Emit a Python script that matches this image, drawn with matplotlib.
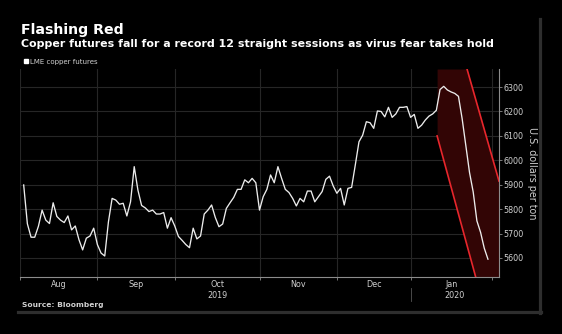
import matplotlib.pyplot as plt
import numpy as np
import pandas as pd
from matplotlib.lines import Line2D
from matplotlib.transforms import blended_transform_factory

# LME trading calendar (UK bank holidays removed)
holidays = ['2019-08-26', '2019-12-25', '2019-12-26', '2020-01-01']
trading_days = pd.bdate_range('2019-08-01', '2020-02-29', freq='C', holidays=holidays)
start_date = pd.Timestamp('2019-08-02')

# LME copper futures, US$ per ton, one value per session from Aug 2 2019
copper = [5899, 5740, 5685, 5685, 5730, 5796, 5755, 5741, 5826, 5770,
          5755, 5745, 5772, 5715, 5731, 5675, 5633, 5681, 5690, 5722,
          5655, 5620, 5608, 5748, 5844, 5837, 5820, 5824, 5772, 5830,
          5974, 5878, 5815, 5805, 5790, 5796, 5780, 5780, 5786, 5722,
          5765, 5731, 5688, 5672, 5655, 5642, 5722, 5678, 5690, 5780,
          5796, 5817, 5766, 5728, 5739, 5803, 5826, 5848, 5881, 5881,
          5920, 5908, 5926, 5908, 5796, 5851, 5881, 5940, 5908, 5974,
          5926, 5881, 5868, 5844, 5813, 5844, 5830, 5874, 5874, 5830,
          5851, 5872, 5922, 5935, 5895, 5865, 5885, 5817, 5885, 5889,
          5981, 6076, 6103, 6158, 6154, 6131, 6202, 6200, 6178, 6217,
          6176, 6190, 6217, 6217, 6220, 6176, 6188, 6131, 6144, 6165,
          6181, 6190, 6205, 6290, 6303, 6288, 6280, 6274, 6262, 6170,
          6060, 5950, 5870, 5752, 5705, 5640, 5595]

y_ticks = [5600, 5700, 5800, 5900, 6000, 6100, 6200, 6300]
y_min, y_max = 5522, 6374
month_names = ['Aug', 'Sep', 'Oct', 'Nov', 'Dec', 'Jan']

# red "falling channel" drawn over January (session positions, prices)
lower_x = [112.2, 122.8]
lower_y = [6100, 5515]
upper_x = [120.3, 129.0]
upper_y = [6375, 5915]

offset = trading_days.get_loc(start_date)
x = np.arange(len(copper))
x_max = len(copper) + 2

# first session of each month as position on the session axis
first_days = trading_days.to_series().groupby(trading_days.to_period('M')).first()
month_starts = np.array([trading_days.get_loc(d) - offset for d in first_days])
month_starts = month_starts[month_starts <= x_max]
month_mids = [(a + b) / 2 for a, b in zip(month_starts[:-1], month_starts[1:])]

W, H = 562, 334
fig = plt.figure(figsize=(W / 100, H / 100), dpi=100)
fig.patch.set_facecolor('black')

def fx(px):
    return px / W

def fy(py):
    return 1 - py / H

ax = fig.add_axes([fx(20), fy(277), fx(499) - fx(20), fy(69) - fy(277)])
ax.set_facecolor('black')

grid_c = '#262626'
axis_c = '#8c8c8c'
text_c = '#d0d0d0'

for v in y_ticks:
    ax.axhline(v, color=grid_c, lw=0.8, zorder=0)
for m in month_starts:
    ax.axvline(m, color=grid_c, lw=0.8, zorder=0)

# shaded channel
xs = np.linspace(lower_x[0], x_max, 300)
lo_fit = np.polyfit(lower_x, lower_y, 1)
up_fit = np.polyfit(upper_x, upper_y, 1)
lo = np.clip(np.polyval(lo_fit, xs), y_min, y_max)
hi = np.clip(np.polyval(up_fit, xs), y_min, y_max)
ax.fill_between(xs, lo, hi, color='#320505', lw=0, zorder=1)
ax.plot(lower_x, lower_y, color='#e8262c', lw=1.2, zorder=2)
ax.plot(upper_x, upper_y, color='#e8262c', lw=1.2, zorder=2)

ax.plot(x, copper, color='#ececec', lw=0.95, zorder=3)

ax.set_xlim(0, x_max)
ax.set_ylim(y_min, y_max)

for side in ['top', 'left']:
    ax.spines[side].set_visible(False)
ax.spines['bottom'].set_color(axis_c)
ax.spines['right'].set_color(axis_c)
ax.spines['bottom'].set_linewidth(0.8)
ax.spines['right'].set_linewidth(0.8)

ax.yaxis.tick_right()
ax.set_yticks(y_ticks)
ax.set_yticklabels([str(v) for v in y_ticks])
ax.tick_params(axis='y', colors=axis_c, labelcolor=text_c, labelsize=5.8,
               length=2, width=0.6, pad=1.0)

ax.set_xticks(month_starts)
ax.set_xticklabels([])
ax.set_xticks(month_mids, minor=True)
ax.set_xticklabels(month_names, minor=True)
ax.tick_params(axis='x', which='major', colors=axis_c, length=2, width=0.6)
ax.tick_params(axis='x', which='minor', length=0, labelcolor=text_c,
               labelsize=5.8, pad=2.2)

# year labels and divider under the months
trans = blended_transform_factory(ax.transData, fig.transFigure)
jan = month_starts[month_names.index('Jan')]
ax.text((0 + jan) / 2, fy(298.3), '2019', transform=trans, color=text_c,
        fontsize=5.8, ha='center', va='baseline')
ax.text((jan + x_max) / 2, fy(298.3), '2020', transform=trans, color=text_c,
        fontsize=5.8, ha='center', va='baseline')
ax.add_line(Line2D([jan, jan], [fy(288), fy(301)], transform=trans,
                   color='#555555', lw=0.6, clip_on=False))

fig.text(fx(532), fy(173), 'U.S. dollars per ton', rotation=270,
         color=text_c, fontsize=6.9, ha='center', va='center')

# titles and legend
fig.text(fx(21), fy(34), 'Flashing Red', color='white', fontsize=10.2,
         fontweight='bold', ha='left', va='baseline')
fig.text(fx(21), fy(46.7),
         'Copper futures fall for a record 12 straight sessions as virus fear takes hold',
         color='white', fontsize=7.9, fontweight='bold', ha='left', va='baseline')
fig.patches.append(plt.Rectangle((fx(24), fy(63.3)), fx(4), fy(59.3) - fy(63.3),
                                 transform=fig.transFigure, color='white'))
fig.text(fx(30), fy(64), 'LME copper futures', color=text_c, fontsize=5,
         ha='left', va='baseline')
fig.text(fx(22), fy(307.5), 'Source: Bloomberg', color=text_c, fontsize=5.4,
         fontweight='bold', ha='left', va='baseline')

# panel frame (right and bottom edges)
frame_c = '#2e2e2e'
fig.add_artist(Line2D([fx(540), fx(540)], [fy(19), fy(313)], color=frame_c, lw=2.3))
fig.add_artist(Line2D([fx(18), fx(541)], [fy(311.5), fy(311.5)], color=frame_c, lw=2.3))

fig.savefig('out.png', dpi=100, facecolor='black')
